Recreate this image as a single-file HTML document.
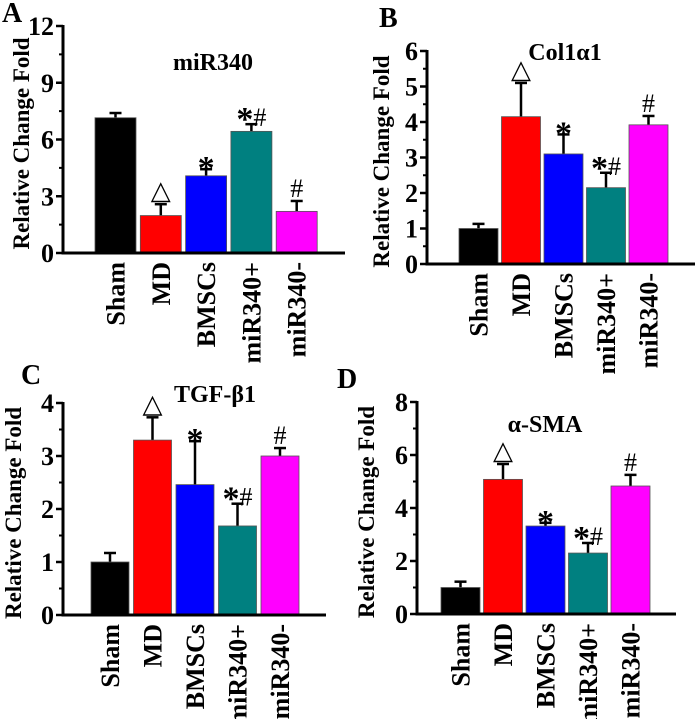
<!DOCTYPE html>
<html><head><meta charset="utf-8">
<style>
html,body{margin:0;padding:0;background:#fff;}
svg{display:block;font-family:"Liberation Serif",serif;font-weight:bold;}
</style></head>
<body>
<svg id="fig" width="700" height="719" viewBox="0 0 700 719" xmlns="http://www.w3.org/2000/svg"></svg>
<script>
const categories = ["Sham","MD","BMSCs","miR340+","miR340-"];
const colors = ["#000000","#ff0000","#0000ff","#008080","#ff00ff"];
const annotations = ["","\u25B3","*","*#","#"];

const valuesA = [7.15,1.98,4.08,6.43,2.2];
const errorsA = [0.25,0.6,0.35,0.38,0.55];
const ticksA = [0,3,6,9,12];

const valuesB = [1.0,4.15,3.1,2.15,3.92];
const errorsB = [0.13,0.95,0.55,0.42,0.25];
const ticksB = [0,1,2,3,4,5,6];

const valuesC = [1.0,3.3,2.46,1.68,3.0];
const errorsC = [0.17,0.43,0.82,0.42,0.15];
const ticksC = [0,1,2,3,4];

const valuesD = [1.0,5.08,3.32,2.3,4.83];
const errorsD = [0.22,0.58,0.12,0.38,0.42];
const ticksD = [0,2,4,6,8];

const NS="http://www.w3.org/2000/svg";
const svg=document.getElementById('fig');
function mk(tag,attrs,parent){const e=document.createElementNS(NS,tag);for(const k in attrs)e.setAttribute(k,attrs[k]);(parent||svg).appendChild(e);return e;}

function panel(cfg){
  const g=mk('g',{});
  
  
  const ymax=cfg.ticks[cfg.ticks.length-1];
  const y=v=>cfg.y0-(v/ymax)*(cfg.y0-cfg.yTop);
  cfg.values.forEach((v,i)=>{
    const x=cfg.barX[0]+i*cfg.step, w=cfg.barW;
    const eTop=y(v+cfg.errors[i]);
    const el=mk('line',{x1:x+w/2,x2:x+w/2,y1:y(v),y2:eTop,stroke:'#000','stroke-width':2.5},g);
    
    
    const cap=mk('line',{x1:x+w/2-6,x2:x+w/2+6,y1:eTop,y2:eTop,stroke:'#000','stroke-width':2.5},g);
    
    
    const r=mk('rect',{x:x,y:y(v),width:w,height:cfg.y0-y(v),fill:colors[i],stroke:'#555','stroke-width':0.8},g);
    
    
    if(annotations[i]){
      const tri=annotations[i]=='\u25B3';
      const t=mk('text',{x:x+w/2,y:eTop-(tri?5:0),'text-anchor':'middle','font-size':tri?26:30,'font-weight':tri?'normal':'bold'},g);
      if(annotations[i]=='*#'){
        const a=mk('tspan',{'font-size':34},t); a.textContent='*';
        const b=mk('tspan',{'font-size':26,'font-weight':'normal',dy:-4},t); b.textContent='#';
        t.setAttribute('y',eTop+6);
      } else if(annotations[i]=='#'){
        t.setAttribute('font-size',26);t.setAttribute('font-weight','normal');t.setAttribute('y',eTop-4);
        t.textContent='#';
      } else if(annotations[i]=='*'){
        t.setAttribute('font-size',34);t.setAttribute('y',eTop+10);
        t.textContent='*';
      } else t.textContent=annotations[i];
      
      
    }
    const lx=x+w/2+9, ly=cfg.y0+9;
    const lt=mk('text',{x:lx,y:ly,'text-anchor':'end','font-size':26,transform:`rotate(-90 ${lx} ${ly})`},g);
    lt.textContent=categories[i];
    
    
  });
  const ya=mk('line',{x1:cfg.ax,x2:cfg.ax,y1:cfg.yTop-1,y2:cfg.y0+1.5,stroke:'#000','stroke-width':3},g);
  
  
  const xa=mk('line',{x1:cfg.ax-1.5,x2:cfg.xEnd,y1:cfg.y0,y2:cfg.y0,stroke:'#000','stroke-width':3},g);
  
  
  cfg.ticks.forEach((tv,i)=>{
    const tk=mk('line',{x1:cfg.ax-7,x2:cfg.ax,y1:y(tv),y2:y(tv),stroke:'#000','stroke-width':2.5},g);
    
    
    if(i>0){const mv=(tv+cfg.ticks[i-1])/2;
      const mt=mk('line',{x1:cfg.ax-4,x2:cfg.ax,y1:y(mv),y2:y(mv),stroke:'#000','stroke-width':2},g);
      
      }
    const tl=mk('text',{x:cfg.ax-9,y:y(tv)+9,'text-anchor':'end','font-size':26},g);
    tl.textContent=tv;
    
    
  });
  const cy=(cfg.y0+cfg.yTop)/2+4;
  const yt=mk('text',{x:cfg.titleX,y:cy,'text-anchor':'middle','font-size':23,transform:`rotate(-90 ${cfg.titleX} ${cy})`},g);
  yt.textContent='Relative Change Fold';
  
  
  const ct=mk('text',{x:cfg.chartTitle[0],y:cfg.chartTitle[1],'text-anchor':'middle','font-size':24},g);
  ct.textContent=cfg.title;
  
  
  const pl=mk('text',{x:cfg.letterPos[0],y:cfg.letterPos[1],'font-size':28},g);
  pl.textContent=cfg.letter;
  
  
}

panel({letter:'A',title:'miR340',values:valuesA,errors:errorsA,ticks:ticksA,ax:63,yTop:26,y0:253,xEnd:345,barX:[95],step:45.3,barW:41,titleX:29,chartTitle:[213,70],letterPos:[2,22]});
panel({letter:'B',title:'Col1\u03B11',values:valuesB,errors:errorsB,ticks:ticksB,ax:427,yTop:51,y0:264,xEnd:695,barX:[459],step:42.5,barW:39,titleX:389,chartTitle:[565,60],letterPos:[379,27]});
panel({letter:'C',title:'TGF-\u03B21',values:valuesC,errors:errorsC,ticks:ticksC,ax:63,yTop:403,y0:615,xEnd:326,barX:[91],step:42.5,barW:38,titleX:21,chartTitle:[215,402],letterPos:[21,384]});
panel({letter:'D',title:'\u03B1-SMA',values:valuesD,errors:errorsD,ticks:ticksD,ax:417,yTop:402,y0:614,xEnd:676,barX:[441],step:42.5,barW:39,titleX:374,chartTitle:[545,432],letterPos:[337,388]});
</script>
</body></html>
